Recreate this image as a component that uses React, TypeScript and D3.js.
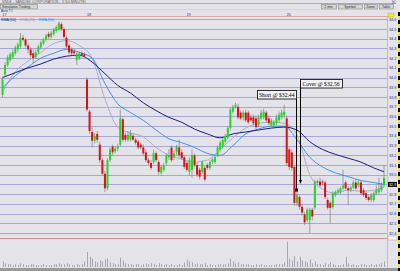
import React from "react";
import * as d3 from "d3";

// ---- data ----
const OPEN = [33.82,34.03,34.13,34.18,34.21,34.25,34.29,34.32,34.41,34.39,34.33,34.29,34.25,34.21,34.26,34.31,34.35,34.39,34.45,34.42,34.45,34.48,34.50,34.55,34.50,34.41,34.33,34.29,34.27,34.18,34.20,34.25,34.24,33.98,33.65,33.44,33.35,33.42,33.31,33.15,33.01,32.86,33.15,33.29,33.24,33.27,33.31,33.57,33.41,33.36,33.36,33.40,33.36,33.34,33.31,33.28,33.23,33.15,33.12,33.13,33.22,33.13,33.02,33.05,33.12,33.18,33.28,33.18,33.23,33.28,33.23,33.18,33.12,33.03,33.05,33.20,33.10,33.05,33.03,33.07,33.10,33.07,33.13,33.13,33.20,33.26,33.29,33.34,33.38,33.48,33.65,33.70,33.70,33.64,33.59,33.64,33.64,33.59,33.59,33.58,33.51,33.58,33.59,33.64,33.58,33.51,33.51,33.53,33.56,33.59,33.61,33.58,33.26,33.23,33.08,32.71,32.77,32.67,32.59,32.53,32.53,32.64,32.66,32.93,32.93,32.93,32.92,32.74,32.71,32.67,32.79,32.82,32.82,32.86,32.92,32.86,32.84,32.87,32.92,32.89,32.92,32.84,32.81,32.77,32.74,32.74,32.81,32.82,32.84,32.89];
const HIGH = [34.01,34.16,34.23,34.26,34.29,34.33,34.36,34.46,34.44,34.41,34.35,34.31,34.29,34.29,34.34,34.38,34.41,34.45,34.47,34.48,34.51,34.54,34.58,34.57,34.52,34.43,34.35,34.31,34.30,34.26,34.27,34.27,34.26,34.00,33.67,33.49,33.43,33.45,33.34,33.17,33.04,33.17,33.28,33.31,33.29,33.32,33.67,33.59,33.43,33.45,33.46,33.42,33.38,33.36,33.33,33.31,33.26,33.17,33.15,33.26,33.24,33.15,33.10,33.12,33.22,33.26,33.30,33.24,33.31,33.36,33.26,33.20,33.14,33.18,33.26,33.22,33.12,33.07,33.15,33.09,33.12,33.15,33.18,33.20,33.30,33.35,33.38,33.42,33.50,33.69,33.72,33.74,33.73,33.66,33.66,33.67,33.66,33.62,33.62,33.61,33.62,33.67,33.68,33.66,33.61,33.58,33.56,33.62,33.65,33.67,33.72,33.61,33.28,33.26,33.10,32.84,32.79,32.69,32.62,32.66,32.66,32.66,32.95,32.95,32.97,32.95,32.94,32.76,32.73,32.83,32.84,32.86,32.88,33.05,32.94,32.88,32.89,32.94,32.95,32.94,32.94,32.86,32.83,32.79,32.81,32.83,32.89,32.97,32.92,33.10];
const LOW = [33.80,34.01,34.11,34.16,34.19,34.23,34.26,34.30,34.37,34.31,34.25,34.21,34.15,34.19,34.24,34.29,34.33,34.37,34.40,34.40,34.43,34.46,34.48,34.48,34.40,34.30,34.24,34.23,34.22,34.13,34.18,34.21,34.20,33.65,33.42,33.28,33.32,33.33,33.12,32.99,32.82,32.84,33.13,33.20,33.22,33.24,33.29,33.34,33.34,33.34,33.34,33.35,33.31,33.26,33.26,33.20,33.13,33.10,33.05,33.11,33.13,33.00,32.99,33.03,33.10,33.15,33.13,33.15,33.20,33.18,33.15,33.06,33.03,32.99,32.97,33.08,32.98,32.95,33.01,32.93,33.05,33.05,33.11,33.11,33.18,33.23,33.27,33.32,33.36,33.46,33.63,33.68,33.57,33.56,33.56,33.54,33.52,33.54,33.51,33.47,33.49,33.56,33.57,33.54,33.51,33.49,33.49,33.51,33.54,33.57,33.58,33.09,33.05,33.04,32.68,32.68,32.64,32.58,32.48,32.51,32.40,32.53,32.64,32.89,32.87,32.89,32.75,32.64,32.50,32.65,32.77,32.80,32.80,32.84,32.84,32.69,32.82,32.85,32.84,32.87,32.79,32.77,32.74,32.72,32.72,32.72,32.79,32.80,32.82,32.87];
const CLOSE = [33.98,34.13,34.21,34.24,34.26,34.31,34.34,34.41,34.39,34.33,34.29,34.23,34.20,34.26,34.32,34.36,34.39,34.43,34.42,34.46,34.49,34.52,34.56,34.50,34.42,34.32,34.26,34.25,34.25,34.24,34.25,34.23,34.22,33.67,33.45,33.35,33.40,33.36,33.15,33.01,32.86,33.15,33.26,33.23,33.27,33.29,33.58,33.36,33.36,33.41,33.43,33.36,33.33,33.28,33.28,33.22,33.15,33.12,33.07,33.22,33.15,33.03,33.08,33.10,33.20,33.20,33.15,33.22,33.29,33.20,33.17,33.08,33.05,33.15,33.20,33.10,33.00,32.98,33.13,32.95,33.07,33.13,33.16,33.18,33.28,33.33,33.36,33.40,33.48,33.67,33.70,33.72,33.59,33.58,33.64,33.56,33.54,33.56,33.53,33.49,33.59,33.64,33.65,33.56,33.53,33.56,33.54,33.59,33.62,33.64,33.65,33.12,33.08,33.07,32.71,32.79,32.67,32.61,32.51,32.64,32.64,32.57,32.93,32.92,32.89,32.92,32.77,32.66,32.66,32.81,32.82,32.84,32.86,32.89,32.86,32.84,32.87,32.92,32.86,32.92,32.81,32.79,32.76,32.74,32.79,32.81,32.84,32.85,32.89,32.97];
const VOLUME = [60,40,30,30,20,30,20,40,30,20,20,30,30,20,20,20,30,20,20,20,30,30,40,30,30,40,30,20,20,30,20,30,60,160,110,90,60,50,70,60,80,90,50,40,30,30,100,70,40,30,30,20,30,30,20,30,40,30,40,30,20,40,30,20,30,20,30,20,20,30,20,50,80,60,50,30,40,30,30,40,20,30,20,20,30,30,30,30,40,90,60,40,50,30,30,30,30,20,20,30,20,30,20,20,20,20,20,30,30,30,50,270,90,70,120,60,110,70,60,50,80,40,60,30,30,20,40,30,50,30,20,20,20,30,110,40,20,30,20,20,30,30,20,20,30,20,30,30,40,60];

// moving averages, sampled every 5 bars
const MA_IDX = [0,5,10,15,20,25,30,35,40,45,50,55,60,65,70,75,80,85,90,95,100,105,110,115,120,125,130,135,140,145,149];
const SMA50 = [34.00,34.05,34.10,34.14,34.19,34.22,34.23,34.16,34.04,33.92,33.84,33.74,33.66,33.59,33.54,33.47,33.42,33.38,33.42,33.44,33.46,33.48,33.49,33.46,33.34,33.26,33.21,33.17,33.13,33.07,33.03];
const EMA20 = [33.85,34.06,34.17,34.26,34.35,34.38,34.33,34.20,33.78,33.49,33.43,33.39,33.28,33.20,33.16,33.13,33.15,33.26,33.38,33.48,33.53,33.54,33.53,33.41,33.00,32.85,32.81,32.84,32.83,32.84,32.87];
const EMA50 = [33.89,34.02,34.11,34.20,34.25,34.29,34.26,34.20,33.94,33.73,33.64,33.56,33.46,33.37,33.33,33.28,33.22,33.20,33.30,33.42,33.47,33.50,33.50,33.36,33.18,33.08,33.02,32.98,32.94,32.92,32.90];

const PRICE_TICKS = [34.6,34.5,34.4,34.3,34.2,34.1,34.0,33.9,33.8,33.7,33.6,33.5,33.4,33.3,33.2,33.1,33.0,32.9,32.8,32.7,32.6,32.5,32.4];
const DAY_LABELS = ["17","18","19","20"];
const DAY_IDX = [0,33,72,111];
const LEGEND = ["SMA (50)","EMA (20)","EMA (50)"];
const TITLE = "SNDK - SANDISK CORPORATION - 3 (10 MINUTE)";
const BUTTONS = ["1 min","Symbol","Zoom","Table"];
const SHORT_TEXT = "Short @ $32.44";
const COVER_TEXT = "Cover @ $32.56";
const SHORT_IDX = 115;
const COVER_IDX = 116;
const LAST_PRICE = 32.9;

const W = 400, H = 271;
const FONT = "'Liberation Sans', Arial, sans-serif";
const SERIF = "'Liberation Serif', 'DejaVu Serif', serif";

export default function App() {
  const x = d3.scaleLinear().domain([0, 149]).range([2.5, 384]);
  const y = d3.scaleLinear().domain([32.4, 34.5]).range([233, 29]);
  const vy = d3.scaleLinear().domain([0, 300]).range([267, 239]);

  const mkLine = (vals: number[]) =>
    d3.line<number>().x((_, i) => x(MA_IDX[i])).y((v) => y(v)).curve(d3.curveMonotoneX)(vals) || "";

  const bg = "#e3e3e9";
  const grid = "#a7a7d6";
  const up = "#26d626";
  const down = "#dd1111";

  const btnW = [15, 24, 13, 14];
  let bx = 321;
  const btns = BUTTONS.map((b, i) => {
    const r = { x: bx, w: btnW[i], t: b };
    bx += btnW[i] + 2;
    return r;
  });

  const sx = Math.round(x(SHORT_IDX)) - 0.5;
  const cx = Math.round(x(COVER_IDX)) + 0.5;

  return (
    <svg width={W} height={H} style={{ position: "absolute", left: 0, top: 0, fontFamily: FONT }}>
      <rect x={0} y={0} width={W} height={H} fill={bg} />
      {/* header */}
      <text x={2} y={3} fontSize={3.6} fill="#555">{TITLE}</text>
      <line x1={0} x2={396} y1={3.5} y2={3.5} stroke="#d08888" strokeWidth={0.8} />
      <rect x={0.5} y={4.5} width={37} height={4.5} fill="#d4d4d4" stroke="#777" strokeWidth={0.5} />
      <text x={2} y={8} fontSize={3.4} fill="#333">Simulation Trading</text>
      {btns.map((b) => (
        <g key={b.t}>
          <rect x={b.x + 0.5} y={4.5} width={b.w} height={4.5} fill="#d4d4d4" stroke="#777" strokeWidth={0.5} />
          <text x={b.x + b.w / 2} y={8} fontSize={3.4} fill="#333" textAnchor="middle">{b.t}</text>
        </g>
      ))}
      <text x={392} y={2.6} fontSize={3} fill="#333">[x]</text>
      <line x1={0} x2={387} y1={9.5} y2={9.5} stroke="#c8c8d0" strokeWidth={0.5} />
      <text x={1} y={12.3} fontSize={3.4} fill="#2a2a90">Auto T1</text>
      {DAY_LABELS.map((d, i) => (
        <text key={d} x={x(DAY_IDX[i])} y={15.5} fontSize={3.6} fill="#2a2a80">{d}</text>
      ))}
      <line x1={0} x2={387} y1={16.5} y2={16.5} stroke="#d89a9a" strokeWidth={0.8} />
      <rect x={388} y={13} width={6} height={4} fill="#f4f000" stroke="#888" strokeWidth={0.3} />

      {/* grid */}
      {PRICE_TICKS.map((p) => (
        <line key={p} x1={0} x2={387} y1={Math.round(y(p)) + 0.5} y2={Math.round(y(p)) + 0.5} stroke={grid} strokeWidth={1} />
      ))}
      {/* legend */}
      <text x={1} y={20.5} fontSize={3.6} fill="#1c1c80">{LEGEND[0]}</text>
      <text x={20} y={20.5} fontSize={3.6} fill="#9a9ac0">{LEGEND[1]}</text>
      <text x={39} y={20.5} fontSize={3.6} fill="#2a8ae8">{LEGEND[2]}</text>

      {/* axis labels */}
      {PRICE_TICKS.map((p) => (
        <text key={"l" + p} x={389} y={y(p) + 1.5} fontSize={3.8} fill="#2a2a80">{p.toFixed(1)}</text>
      ))}
      <rect x={388} y={y(LAST_PRICE) - 2.5} width={9} height={5} fill="#000" />
      <text x={389} y={y(LAST_PRICE) + 1.5} fontSize={3.8} fill="#fff">{LAST_PRICE.toFixed(1)}</text>

      {/* volume */}
      {VOLUME.map((v, i) => (
        <line key={"v" + i} x1={Math.round(x(i)) + 0.5} x2={Math.round(x(i)) + 0.5} y1={267} y2={vy(v)} stroke="#a6a6ae" strokeWidth={1} />
      ))}

      {/* moving averages */}
      <path d={mkLine(EMA20)} fill="none" stroke="#a6a6c8" strokeWidth={0.9} />
      <path d={mkLine(EMA50)} fill="none" stroke="#3a96ea" strokeWidth={1} />
      <path d={mkLine(SMA50)} fill="none" stroke="#1c1c80" strokeWidth={1} />

      {/* candles */}
      {OPEN.map((o, i) => {
        const c = CLOSE[i];
        const cxp = x(i);
        const top = y(Math.max(o, c));
        const bot = y(Math.min(o, c));
        const isUp = c >= o;
        return (
          <g key={"c" + i}>
            <line x1={cxp} x2={cxp} y1={y(HIGH[i])} y2={y(LOW[i])} stroke="#707070" strokeWidth={0.6} />
            <rect x={cxp - 1} y={top} width={2} height={Math.max(1, bot - top)} fill={isUp ? up : down} />
          </g>
        );
      })}

      {/* trade annotations */}
      <line x1={sx} x2={sx} y1={99} y2={190} stroke="#000" strokeWidth={1} />
      <rect x={sx - 1.5} y={188.5} width={3} height={3} fill="#000" />
      <rect x={257.5} y={90.5} width={sx - 257.5} height={8.5} fill="#f2f2f4" stroke="#000" strokeWidth={0.8} />
      <text x={259} y={97} fontSize={5.6} fill="#000" fontFamily={SERIF}>{SHORT_TEXT}</text>
      <line x1={cx} x2={cx} y1={79} y2={183} stroke="#000" strokeWidth={1} />
      <path d={`M${cx - 1.5},${180} L${cx + 1.5},${180} L${cx},${184} Z`} fill="#000" />
      <rect x={cx} y={79.5} width={42} height={8.5} fill="#f2f2f4" stroke="#000" strokeWidth={0.8} />
      <text x={cx + 2} y={86} fontSize={5.6} fill="#000" fontFamily={SERIF}>{COVER_TEXT}</text>

      {/* frame lines */}
      <line x1={0} x2={387} y1={238.5} y2={238.5} stroke="#d89090" strokeWidth={1} />
      <line x1={387.5} x2={387.5} y1={16} y2={268} stroke="#d8a8a8" strokeWidth={0.8} />
      <rect x={388} y={236} width={9} height={4} fill="#f4f4f4" stroke="#d08888" strokeWidth={0.4} />
      <rect x={0} y={268} width={400} height={3} fill="#9a9a9a" />
      <rect x={398} y={12} width={2} height={259} fill="#f0e800" />
      {d3.range(12, 271, 8).map((yy) => (
        <rect key={"d" + yy} x={398} y={yy} width={2} height={4} fill="#000" />
      ))}
    </svg>
  );
}
